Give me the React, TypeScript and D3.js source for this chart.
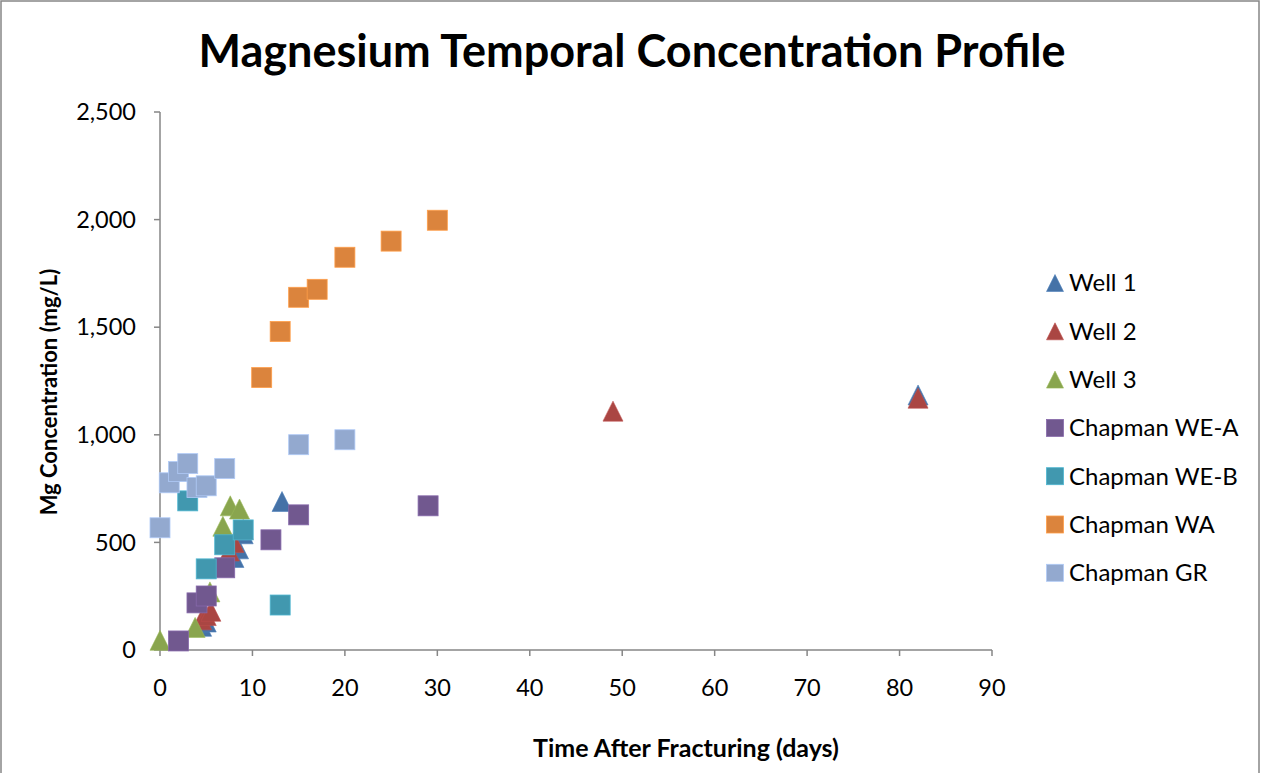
import React from "react";
import * as d3 from "d3";

type Pt = [number, number];

const well1: Pt[] = [[4.5, 110], [5, 130], [8, 430], [8.5, 470], [9, 540], [13.2, 690], [82, 1185]];
const well2: Pt[] = [[4.5, 140], [5, 160], [5.5, 180], [7.5, 460], [8, 500], [9, 560], [49, 1110], [82, 1170]];
const well3: Pt[] = [[0, 45], [3.8, 105], [5.4, 270], [6.8, 575], [7.6, 670], [8.6, 655]];
const chapmanWEA: Pt[] = [[2, 42], [4, 219], [5, 251], [7, 382], [12, 512], [15, 628], [29, 670]];
const chapmanWEB: Pt[] = [[3, 693], [5, 377], [7, 489], [9, 558], [13, 209]];
const chapmanWA: Pt[] = [[11, 1266], [13, 1480], [15, 1639], [17, 1676], [20, 1825], [25, 1900], [30, 1997]];
const chapmanGR: Pt[] = [[0, 568], [1, 777], [2, 829], [3, 866], [4, 755], [5, 763], [7, 843], [15, 954], [20, 977]];

const seriesNames = ["Well 1", "Well 2", "Well 3", "Chapman WE-A", "Chapman WE-B", "Chapman WA", "Chapman GR"];
const seriesData = [well1, well2, well3, chapmanWEA, chapmanWEB, chapmanWA, chapmanGR];
const seriesColors = ["#4572A7", "#AA4643", "#89A54E", "#71588F", "#4198AF", "#DB843D", "#93A9CF"];
const seriesShapes = ["triangle", "triangle", "triangle", "square", "square", "square", "square"];

const xTicks = [0, 10, 20, 30, 40, 50, 60, 70, 80, 90];
const yTicks = [0, 500, 1000, 1500, 2000, 2500];

const W = 1265;
const H = 773;
const FONT = "Lato, 'Open Sans', sans-serif";

function marker(shape: string, cx: number, cy: number, size: number, color: string, key: string) {
  if (shape === "triangle") {
    const h = size;
    const w = size;
    const pts = `${cx},${cy - h / 2} ${cx + w / 2},${cy + h / 2} ${cx - w / 2},${cy + h / 2}`;
    return <polygon key={key} points={pts} fill={color} stroke={d3.color(color)!.brighter(0.3).toString()} strokeWidth={0.6} />;
  }
  return (
    <rect key={key} x={cx - size / 2} y={cy - size / 2} width={size} height={size} fill={color}
      stroke={d3.color(color)!.brighter(0.5).toString()} strokeWidth={0.8} />
  );
}

export default function App() {
  const x = d3.scaleLinear().domain([0, 90]).range([160, 992]);
  const y = d3.scaleLinear().domain([0, 2500]).range([650, 112]);
  const fmt = d3.format(",");

  return (
    <div style={{ position: "absolute", left: 0, top: 0 }}>
      <svg width={W} height={H} style={{ display: "block", fontFamily: FONT }}>
        <rect x={0} y={0} width={W} height={H} fill="#fff" />
        <rect x={1} y={1} width={1258} height={H + 5} fill="none" stroke="#868686" strokeWidth={1.5} />
        <text x={632} y={67} textAnchor="middle" fontSize={45} fontWeight="bold" fill="#000">
          Magnesium Temporal Concentration Profile
        </text>

        {/* axes */}
        <line x1={x(0)} x2={x(0)} y1={y(2500)} y2={y(0)} stroke="#868686" strokeWidth={1.5} />
        <line x1={x(0)} x2={x(90)} y1={y(0)} y2={y(0)} stroke="#868686" strokeWidth={1.5} />
        {yTicks.map((t) => (
          <g key={"y" + t}>
            <line x1={x(0) - 6} x2={x(0)} y1={y(t)} y2={y(t)} stroke="#868686" strokeWidth={1.5} />
            <text x={136} y={y(t)} dy="0.35em" textAnchor="end" fontSize={23.5} fill="#000">{fmt(t)}</text>
          </g>
        ))}
        {xTicks.map((t) => (
          <g key={"x" + t}>
            <line x1={x(t)} x2={x(t)} y1={y(0)} y2={y(0) + 6} stroke="#868686" strokeWidth={1.5} />
            <text x={x(t)} y={696} textAnchor="middle" fontSize={23.5} fill="#000">{t}</text>
          </g>
        ))}
        <text x={686} y={757} textAnchor="middle" fontSize={25} fontWeight="bold" fill="#000">
          Time After Fracturing (days)
        </text>
        <text transform={`translate(57,${392}) rotate(-90)`} textAnchor="middle" fontSize={22} fontWeight="bold" fill="#000">
          Mg Concentration (mg/L)
        </text>

        {/* data */}
        {seriesData.map((data, si) => (
          <g key={"s" + si}>
            {data.map((d, i) => marker(seriesShapes[si], x(d[0]), y(d[1]), 20, seriesColors[si], `m${si}-${i}`))}
          </g>
        ))}

        {/* legend */}
        {seriesNames.map((name, i) => {
          const ly = 283 + i * 48.3;
          return (
            <g key={"l" + i}>
              {marker(seriesShapes[i], 1055, ly, 17, seriesColors[i], "lm" + i)}
              <text x={1069} y={ly} dy="0.35em" fontSize={24} fill="#000">{name}</text>
            </g>
          );
        })}
      </svg>
    </div>
  );
}
